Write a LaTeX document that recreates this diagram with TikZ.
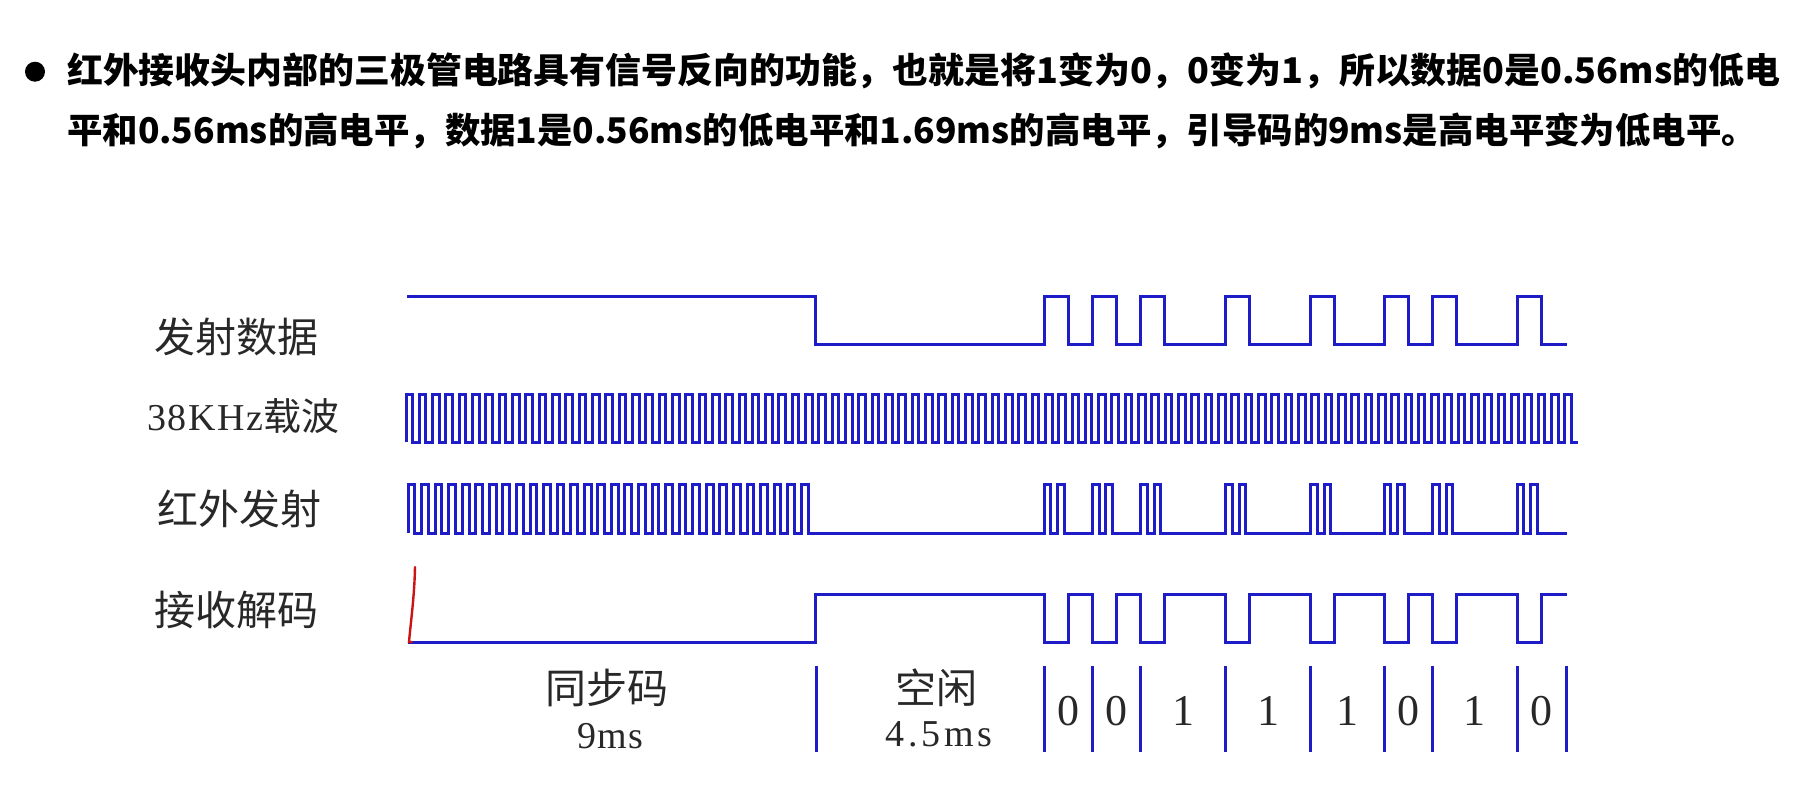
\documentclass[tikz,border=0pt]{standalone}
\usepackage{fontspec}
\setmainfont{Liberation Serif}
\newfontfamily\cjk{Noto Sans CJK SC}
\definecolor{sigblue}{RGB}{30,28,198}
\definecolor{penred}{RGB}{205,20,20}
\definecolor{labelgray}{RGB}{40,40,40}
\tikzset{
  sig/.style={draw=sigblue, line width=3pt, line join=miter},
  penmark/.style={draw=penred, line width=2.4pt, line cap=round},
  hdr/.style={anchor=base west, inner sep=0pt, font=\cjk\bfseries\fontsize{35.4}{35.4}\selectfont, text=black},
  rowlabel/.style={anchor=west, inner sep=0pt, text=labelgray, font=\cjk\fontsize{41}{41}\selectfont, text height=36pt, text depth=5pt},
  cjklabel/.style={anchor=center, inner sep=0pt, text=labelgray, font=\cjk\fontsize{41}{41}\selectfont, text height=36pt, text depth=5pt},
  latinlabel/.style={anchor=base, inner sep=0pt, text=labelgray, font=\fontsize{38}{38}\selectfont},
  bitlabel/.style={anchor=base, inner sep=0pt, text=labelgray, font=\fontsize{44}{44}\selectfont},
  sep/.style={draw=sigblue, line width=3pt}
}
\begin{document}
\begin{tikzpicture}[x=1pt,y=-1pt]
\useasboundingbox[fill=white] (0,0) rectangle (1808,801);
% header
\fill[black] (35,71.7) circle (10);
\node[hdr] (h1) at (67,83.5) {\scalebox{1.014}[1]{红外接收头内部的三极管电路具有信号反向的功能，也就是将1变为0，0变为1，所以数据0是0.56ms的低电}};
\node[hdr] (h2) at (67,143.5) {平和0.56ms的高电平，数据1是0.56ms的低电平和1.69ms的高电平，引导码的9ms是高电平变为低电平。};
% row labels
\node[rowlabel] (l1) at (154,337) {发射数据};
\node[rowlabel] (l2) at (147,415) {{\rmfamily\addfontfeature{LetterSpace=4}\fontsize{38}{38}\selectfont 38KHz}{\fontsize{38}{38}\selectfont 载波}};
\node[rowlabel] (l3) at (157,509) {红外发射};
\node[rowlabel] (l4) at (154,610) {接收解码};
\def\starts{1044,1092.6,1140.9,1225.9,1310.9,1384.1,1432.7,1517}
% data signal
\draw[sig] (407,296) -- (815,296) -- (815,344)
  foreach \s in \starts { -- (\s,344) -- (\s,296) -- (\s+24,296) -- (\s+24,344) } -- (1567,344);
% 38kHz carrier
\draw[sig] (406,442) foreach \k in {1,...,88} { -- ++(0,-48) -- ++(6.66,0) -- ++(0,48) -- ++(6.66,0) };
% IR emission
\draw[sig] (408,533) foreach \k in {1,...,30} { -- ++(0,-49) -- ++(6.78,0) -- ++(0,49) -- ++(6.78,0) }
  foreach \s in \starts { -- (\s,533) -- (\s,484) -- (\s+6.7,484) -- (\s+6.7,533) -- (\s+13.3,533) -- (\s+13.3,484) -- (\s+20,484) -- (\s+20,533) } -- (1567,533);
% received / decoded
\draw[sig] (408,642) -- (815,642) -- (815,594)
  foreach \s in \starts { -- (\s,594) -- (\s,642) -- (\s+24,642) -- (\s+24,594) } -- (1567,594);
% red pen mark
\draw[penmark] (415,567) .. controls (414.5,595) and (411,620) .. (409,642) -- (412,642);
% separators
\foreach \x in {816,1044,1092.6,1140.9,1225.9,1310.9,1384.1,1432.7,1517,1566}
  \draw[sep] (\x,666) -- (\x,752);
% bottom labels
\node[cjklabel] (sync) at (607,688) {同步码};
\node[latinlabel] (sync9) at (610,748) {\addfontfeature{LetterSpace=3}9ms};
\node[cjklabel] (idle) at (936,688) {空闲};
\node[latinlabel] (idle45) at (939,746) {\addfontfeature{LetterSpace=10}4.5ms};
\foreach \x/\b [count=\i] in {1068.3/0,1116.8/0,1183.4/1,1268.4/1,1347.5/1,1408.4/0,1474.9/1,1541.5/0}
  \node[bitlabel] (bit\i) at (\x,725) {\b};
\end{tikzpicture}
\end{document}
